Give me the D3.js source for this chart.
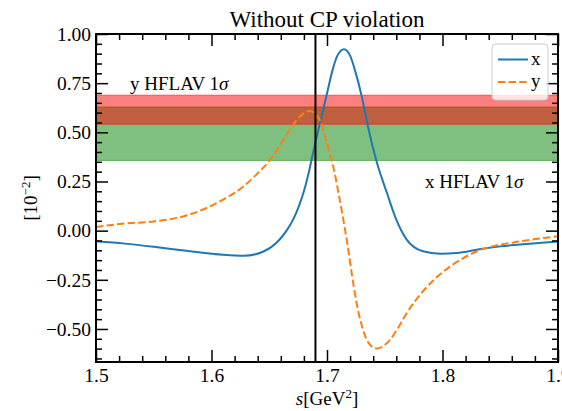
<!DOCTYPE html>
<html lang="en">
<head>
<meta charset="UTF-8">
<title>Without CP violation</title>
<style>
  body { margin: 0; background: #fff; }
  svg text { font-family: "Liberation Serif", "Times New Roman", "DejaVu Serif", serif; fill: #000; }
</style>
</head>
<body>
<script src="https://cdn.jsdelivr.net/npm/d3@7"></script>
<script>
// s values in GeV^2, x and y in units of 10^-2
const xCurveS = [1.50, 1.525, 1.55, 1.58, 1.61, 1.628, 1.645, 1.659, 1.665, 1.671, 1.676, 1.680, 1.684, 1.687,
                 1.690, 1.694, 1.6997, 1.7045, 1.709, 1.7147, 1.720, 1.7245, 1.730, 1.736, 1.743, 1.752,
                 1.760, 1.769, 1.783, 1.798, 1.812, 1.833, 1.85, 1.867, 1.90];
const xCurveV = [-0.054, -0.066, -0.082, -0.104, -0.123, -0.128, -0.106, -0.045, 0.0, 0.06, 0.13, 0.2, 0.29, 0.37,
                 0.45, 0.55, 0.69, 0.81, 0.89, 0.923, 0.89, 0.81, 0.685, 0.515, 0.35, 0.19,
                 0.056, -0.046, -0.105, -0.117, -0.114, -0.093, -0.08, -0.071, -0.055];

const yCurveS = [1.50, 1.525, 1.55, 1.58, 1.61, 1.628, 1.639, 1.651, 1.659, 1.668, 1.677, 1.685, 1.690, 1.694,
                 1.698, 1.702, 1.706, 1.710, 1.714, 1.718, 1.722, 1.726, 1.730, 1.734, 1.738, 1.743,
                 1.748, 1.7545, 1.762, 1.769, 1.783, 1.798, 1.815, 1.830, 1.850, 1.867, 1.880, 1.90];
const yCurveV = [0.019, 0.036, 0.047, 0.08, 0.158, 0.226, 0.286, 0.362, 0.43, 0.515, 0.583, 0.609, 0.592, 0.56,
                 0.485, 0.40, 0.31, 0.19, 0.06, -0.08, -0.24, -0.38, -0.48, -0.55, -0.585, -0.599,
                 -0.59, -0.556, -0.49, -0.42, -0.309, -0.222, -0.15, -0.105, -0.071, -0.055, -0.043, -0.029];

// HFLAV 1 sigma ranges
const xBand = [0.357, 0.629];
const yBand = [0.541, 0.689];
const sThreshold = 1.69;

const xTicks = [1.5, 1.6, 1.7, 1.8, 1.9];
const yTicks = [-0.50, -0.25, 0.00, 0.25, 0.50, 0.75, 1.00];

const width = 562, height = 411;
const margin = {left: 96, right: 4, top: 34, bottom: 49};
const serif = "'Liberation Serif', 'Times New Roman', serif";

const svg = d3.select("body").append("svg")
    .attr("width", width)
    .attr("height", height)
    .attr("font-family", serif);

const x = d3.scaleLinear().domain([1.5, 1.9]).range([margin.left, width - margin.right]);
const y = d3.scaleLinear().domain([-0.668, 1.0]).range([height - margin.bottom, margin.top]);

svg.append("clipPath").attr("id", "clip")
  .append("rect")
    .attr("x", x(1.5)).attr("y", y(1.0))
    .attr("width", x(1.9) - x(1.5)).attr("height", y(-0.668) - y(1.0));

const plot = svg.append("g").attr("clip-path", "url(#clip)");

// bands, green first then red on top
plot.append("rect")
    .attr("x", x(1.5)).attr("width", x(1.9) - x(1.5))
    .attr("y", y(xBand[1])).attr("height", y(xBand[0]) - y(xBand[1]))
    .style("fill", "green").style("fill-opacity", 0.5)
    .style("stroke", "green").style("stroke-opacity", 0.5).style("stroke-width", 1);
plot.append("rect")
    .attr("x", x(1.5)).attr("width", x(1.9) - x(1.5))
    .attr("y", y(yBand[1])).attr("height", y(yBand[0]) - y(yBand[1]))
    .style("fill", "red").style("fill-opacity", 0.5)
    .style("stroke", "red").style("stroke-opacity", 0.5).style("stroke-width", 1);

const line = d3.line()
    .x(d => x(d[0]))
    .y(d => y(d[1]))
    .curve(d3.curveMonotoneX);

plot.append("path")
    .datum(d3.zip(xCurveS, xCurveV))
    .attr("d", line)
    .style("fill", "none").style("stroke", "#1f77b4").style("stroke-width", 2);

plot.append("path")
    .datum(d3.zip(yCurveS, yCurveV))
    .attr("d", line)
    .style("fill", "none").style("stroke", "#ff7f0e").style("stroke-width", 2)
    .style("stroke-dasharray", "7.4,3.2");

plot.append("line")
    .attr("x1", x(sThreshold)).attr("x2", x(sThreshold))
    .attr("y1", y(1.0)).attr("y2", y(-0.668))
    .style("stroke", "#000").style("stroke-width", 2);

// band labels
svg.append("text")
    .attr("x", 130).attr("y", 90)
    .style("font-size", "19px")
    .html('y HFLAV 1<tspan font-style="italic">σ</tspan>');
svg.append("text")
    .attr("x", 425).attr("y", 188)
    .style("font-size", "19px")
    .html('x HFLAV 1<tspan font-style="italic">σ</tspan>');

// axes, ticks pointing inward on all sides
const fmtY = d => d3.format(".2f")(d).replace("-", "\u2212");
const minorX = d3.range(1.5, 1.9001, 0.02).filter(v => !xTicks.some(t => Math.abs(t - v) < 1e-6));
const minorY = d3.range(-0.65, 1.0001, 0.05).filter(v => !yTicks.some(t => Math.abs(t - v) < 1e-6));

function styleAxis(g) {
  g.attr("font-family", serif).attr("font-size", 19);
  g.select(".domain").remove();
  g.selectAll(".tick line").style("stroke", "#000").style("stroke-width", 1.5);
  g.selectAll(".tick text").style("font-size", "19.5px");
}

svg.append("g").attr("transform", `translate(0,${y(-0.668)})`)
    .call(d3.axisBottom(x).tickValues(xTicks).tickSize(-12).tickPadding(6).tickFormat(d3.format(".1f")))
    .call(styleAxis);
svg.append("g").attr("transform", `translate(0,${y(-0.668)})`)
    .call(d3.axisBottom(x).tickValues(minorX).tickSize(-6).tickFormat(""))
    .call(styleAxis);
svg.append("g").attr("transform", `translate(0,${y(1.0)})`)
    .call(d3.axisTop(x).tickValues(xTicks).tickSize(-12).tickFormat(""))
    .call(styleAxis);
svg.append("g").attr("transform", `translate(0,${y(1.0)})`)
    .call(d3.axisTop(x).tickValues(minorX).tickSize(-6).tickFormat(""))
    .call(styleAxis);

svg.append("g").attr("transform", `translate(${x(1.5)},0)`)
    .call(d3.axisLeft(y).tickValues(yTicks).tickSize(-12).tickPadding(5).tickFormat(fmtY))
    .call(styleAxis);
svg.append("g").attr("transform", `translate(${x(1.5)},0)`)
    .call(d3.axisLeft(y).tickValues(minorY).tickSize(-6).tickFormat(""))
    .call(styleAxis);
svg.append("g").attr("transform", `translate(${x(1.9)},0)`)
    .call(d3.axisRight(y).tickValues(yTicks).tickSize(-12).tickFormat(""))
    .call(styleAxis);
svg.append("g").attr("transform", `translate(${x(1.9)},0)`)
    .call(d3.axisRight(y).tickValues(minorY).tickSize(-6).tickFormat(""))
    .call(styleAxis);

// frame
svg.append("rect")
    .attr("x", x(1.5)).attr("y", y(1.0))
    .attr("width", x(1.9) - x(1.5)).attr("height", y(-0.668) - y(1.0))
    .style("fill", "none").style("stroke", "#000").style("stroke-width", 2);

// legend
const lg = svg.append("g").attr("transform", "translate(492,44)");
lg.append("rect")
    .attr("width", 56).attr("height", 56).attr("rx", 4)
    .style("fill", "#fff").style("fill-opacity", 0.8)
    .style("stroke", "#ccc").style("stroke-width", 1);
const legendItems = [
  {label: "x", color: "#1f77b4", dash: null},
  {label: "y", color: "#ff7f0e", dash: "7.4,3.2"}
];
legendItems.forEach((d, i) => {
  const yy = 15.5 + i * 22.5;
  lg.append("line")
      .attr("x1", 6).attr("x2", 36).attr("y1", yy).attr("y2", yy)
      .style("stroke", d.color).style("stroke-width", 2)
      .style("stroke-dasharray", d.dash);
  lg.append("text")
      .attr("x", 39).attr("y", yy + 5)
      .style("font-size", "19px")
      .text(d.label);
});

// titles
svg.append("text")
    .attr("x", (x(1.5) + x(1.9)) / 2).attr("y", 27)
    .attr("text-anchor", "middle")
    .style("font-size", "23px")
    .text("Without CP violation");

svg.append("text")
    .attr("x", (x(1.5) + x(1.9)) / 2).attr("y", 405)
    .attr("text-anchor", "middle")
    .style("font-size", "19px")
    .html('<tspan font-style="italic">s</tspan>[GeV<tspan dy="-7" font-size="13px">2</tspan><tspan dy="7">]</tspan>');

svg.append("text")
    .attr("transform", `translate(37,${(y(1.0) + y(-0.668)) / 2}) rotate(-90)`)
    .attr("text-anchor", "middle")
    .style("font-size", "19px")
    .html('[10<tspan dy="-7" font-size="13px">\u22122</tspan><tspan dy="7">]</tspan>');
</script>
</body>
</html>
